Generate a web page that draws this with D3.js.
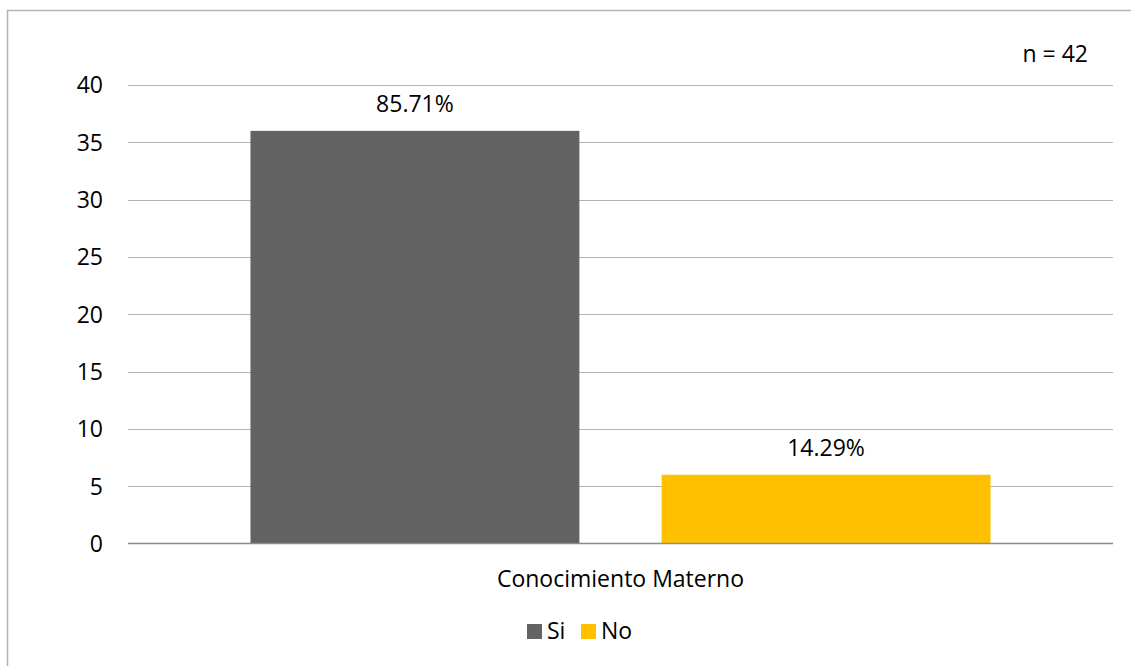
<!DOCTYPE html>
<html>
<head>
<meta charset="utf-8">
<script src="https://cdn.jsdelivr.net/npm/d3@7"></script>
<style>
  html, body { margin: 0; padding: 0; background: #fff; }
  svg text { font-family: "Open Sans", "DejaVu Sans", sans-serif; fill: #000; }
</style>
</head>
<body>
<svg id="chart" width="1131" height="666"></svg>
<script>
// Conocimiento materno: respuestas Si / No (n = 42)
const category = "Conocimiento Materno";
const series = ["Si", "No"];
const counts = [36, 6];
const percentLabels = ["85.71%", "14.29%"];
const colors = ["#636363", "#FFC000"];
const yTicks = [0, 5, 10, 15, 20, 25, 30, 35, 40];
const sampleLabel = "n = 42";

const svg = d3.select("#chart");
const W = 1131, H = 666;
const plot = { left: 128, right: 1113, top: 85, bottom: 543.5 };
const fontSize = 23;

// outer frame (left and top edges visible)
svg.append("path")
  .attr("d", `M7.5,${H} L7.5,10.5 L${W},10.5`)
  .attr("fill", "none")
  .attr("stroke", "#b4b4b4")
  .attr("stroke-width", 1.5);

const y = d3.scaleLinear().domain([0, 40]).range([plot.bottom, plot.top]);

// category band and series band inside it
const x0 = d3.scaleBand().domain([category]).range([plot.left, plot.right]).paddingInner(0).paddingOuter(0.1655);
const x1 = d3.scaleBand().domain(series).range([x0(category), x0(category) + x0.bandwidth()]).paddingInner(0.2).paddingOuter(0);

// gridlines
svg.append("g")
  .selectAll("line")
  .data(yTicks.filter(d => d !== 0))
  .join("line")
  .attr("x1", plot.left).attr("x2", plot.right)
  .attr("y1", d => Math.round(y(d)) + 0.5).attr("y2", d => Math.round(y(d)) + 0.5)
  .attr("stroke", "#b3b3b3").attr("stroke-width", 1);

// y axis labels
const yAxis = d3.axisLeft(y).tickValues(yTicks).tickSize(0).tickPadding(25);
const gy = svg.append("g").attr("transform", `translate(${plot.left},0)`).call(yAxis);
gy.select(".domain").remove();
gy.selectAll("text")
  .style("font-size", fontSize + "px")
  .style("font-family", "'Open Sans', sans-serif")
  .attr("fill", "#000")
  .attr("dy", "0.34em");

// bars
svg.append("g")
  .selectAll("rect")
  .data(series)
  .join("rect")
  .attr("x", (d) => x1(d))
  .attr("width", x1.bandwidth())
  .attr("y", (d, i) => y(counts[i]))
  .attr("height", (d, i) => y(0) - y(counts[i]))
  .attr("fill", (d, i) => colors[i]);

// baseline
svg.append("line")
  .attr("x1", plot.left).attr("x2", plot.right)
  .attr("y1", y(0)).attr("y2", y(0))
  .attr("stroke", "#8c8c8c").attr("stroke-width", 1.5);

// value labels
svg.append("g")
  .selectAll("text")
  .data(series)
  .join("text")
  .attr("x", d => x1(d) + x1.bandwidth() / 2)
  .attr("y", (d, i) => y(counts[i]) - 19)
  .attr("text-anchor", "middle")
  .style("font-size", fontSize + "px")
  .text((d, i) => percentLabels[i]);

// category label
svg.append("text")
  .attr("x", x0(category) + x0.bandwidth() / 2)
  .attr("y", 587)
  .attr("text-anchor", "middle")
  .style("font-size", fontSize + "px")
  .text(category);

// sample size
svg.append("text")
  .attr("x", 1088)
  .attr("y", 62)
  .attr("text-anchor", "end")
  .style("font-size", fontSize + "px")
  .text(sampleLabel);

// legend
const legendX = [527, 581];
const legend = svg.append("g");
series.forEach((s, i) => {
  legend.append("rect")
    .attr("x", legendX[i]).attr("y", 624)
    .attr("width", 15).attr("height", 15)
    .attr("fill", colors[i]);
  legend.append("text")
    .attr("x", legendX[i] + 20).attr("y", 639)
    .style("font-size", fontSize + "px")
    .text(s);
});
</script>
</body>
</html>
